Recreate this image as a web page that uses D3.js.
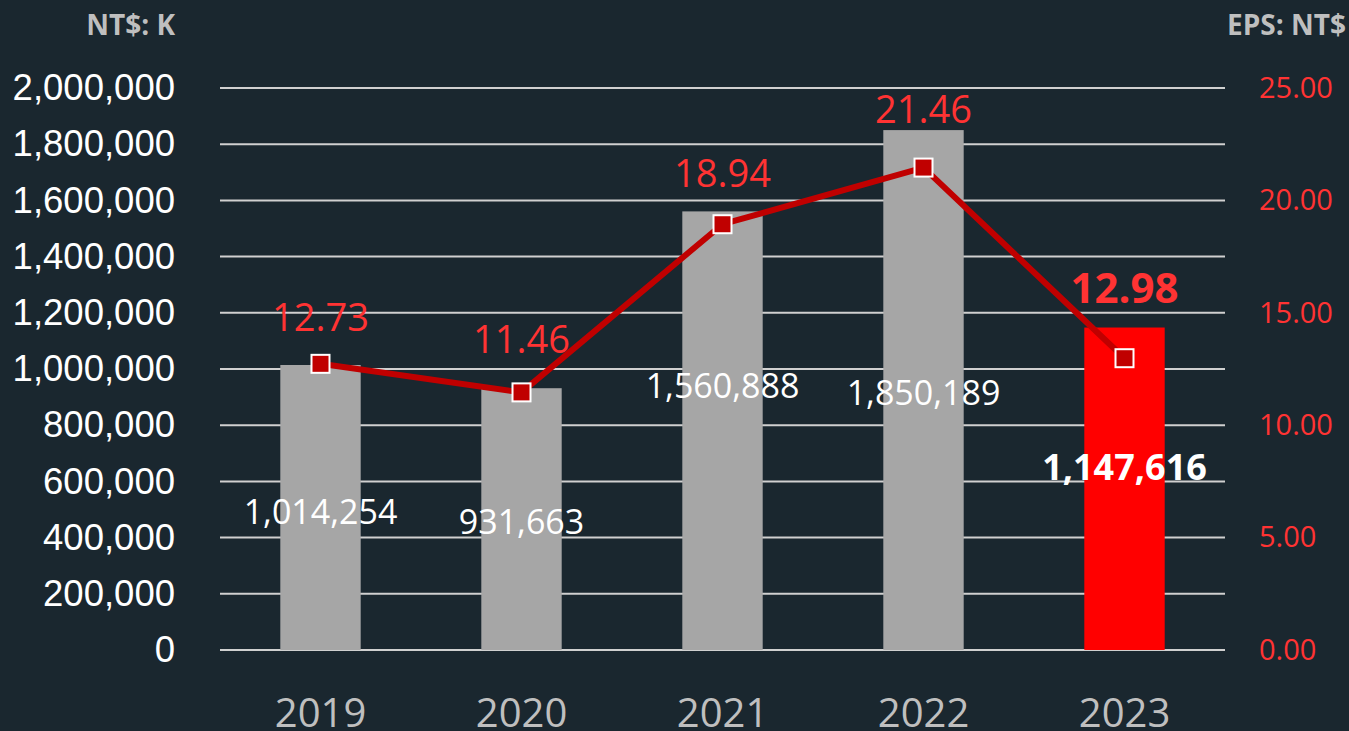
<!DOCTYPE html>
<html>
<head>
<meta charset="utf-8">
<script src="https://cdn.jsdelivr.net/npm/d3@7"></script>
<style>
  html, body { margin: 0; padding: 0; background: #1a272f; }
  svg { display: block; }
</style>
</head>
<body>
<div id="chart"></div>
<script>
// revenue (NT$ K) bars + EPS line, dual axis
var years = ["2019", "2020", "2021", "2022", "2023"];
var revenue = [1014254, 931663, 1560888, 1850189, 1147616];
var eps = [12.73, 11.46, 18.94, 21.46, 12.98];
// where the labels sit (in axis units), they are not tied to the marks
var revenueLabelAt = [490000, 455000, 940000, 915000, 650000];
var epsLabelAt = [14.8, 13.8, 21.2, 24.05, 16.1];
var leftTicks = [0, 200000, 400000, 600000, 800000, 1000000, 1200000, 1400000, 1600000, 1800000, 2000000];
var rightTicks = [0, 5, 10, 15, 20, 25];

var width = 1349, height = 731;
var margin = { top: 88, left: 220, right: 124, bottom: 81 };

var svg = d3.select("#chart").append("svg")
    .attr("width", width)
    .attr("height", height);

svg.append("rect")
    .attr("width", width)
    .attr("height", height)
    .attr("fill", "#1a272f");

var x = d3.scaleBand()
    .domain(years)
    .range([margin.left, width - margin.right])
    .paddingInner(0.6)
    .paddingOuter(0.3);

var yLeft = d3.scaleLinear()
    .domain([0, 2000000])
    .range([height - margin.bottom, margin.top]);

var yRight = d3.scaleLinear()
    .domain([0, 25])
    .range([height - margin.bottom, margin.top]);

// gridlines
svg.append("g")
    .selectAll("line")
    .data(leftTicks)
    .enter()
    .append("line")
    .attr("x1", margin.left)
    .attr("x2", width - margin.right)
    .attr("y1", d => yLeft(d))
    .attr("y2", d => yLeft(d))
    .attr("stroke", "#d0d0d0")
    .attr("stroke-width", 2);

// bars
svg.append("g")
    .selectAll("rect")
    .data(revenue)
    .enter()
    .append("rect")
    .attr("x", (d, i) => x(years[i]))
    .attr("width", x.bandwidth())
    .attr("y", d => yLeft(d))
    .attr("height", d => yLeft(0) - yLeft(d))
    .attr("fill", (d, i) => i === years.length - 1 ? "#ff0000" : "#a6a6a6");

// left axis
var leftAxis = svg.append("g")
    .attr("transform", "translate(" + margin.left + ",0)")
    .call(d3.axisLeft(yLeft).tickValues(leftTicks).tickSize(0).tickPadding(45).tickFormat(d3.format(",")));
leftAxis.select(".domain").remove();
leftAxis.selectAll("text")
    .attr("fill", "#ffffff")
    .style("font-family", "'Liberation Sans', Arial, sans-serif")
    .style("font-size", "36.5px");

// right axis
var rightAxis = svg.append("g")
    .attr("transform", "translate(" + (width - margin.right) + ",0)")
    .call(d3.axisRight(yRight).tickValues(rightTicks).tickSize(0).tickPadding(34).tickFormat(d3.format(".2f")));
rightAxis.select(".domain").remove();
rightAxis.selectAll("text")
    .attr("fill", "#ff3333")
    .style("font-family", "'Open Sans', sans-serif")
    .style("font-size", "29px");

// x axis
var xAxis = svg.append("g")
    .attr("transform", "translate(0," + (height - margin.bottom) + ")")
    .call(d3.axisBottom(x).tickSize(0).tickPadding(49).tickFormat(d => d));
xAxis.select(".domain").remove();
xAxis.selectAll("text")
    .attr("fill", "#bfbfbf")
    .style("font-family", "'Open Sans', sans-serif")
    .style("font-size", "40px");

// revenue labels
svg.append("g")
    .selectAll("text")
    .data(revenue)
    .enter()
    .append("text")
    .attr("x", (d, i) => x(years[i]) + x.bandwidth() / 2)
    .attr("y", (d, i) => yLeft(revenueLabelAt[i]))
    .attr("dy", "0.35em")
    .attr("text-anchor", "middle")
    .attr("fill", "#ffffff")
    .style("font-family", "'Open Sans', sans-serif")
    .style("font-size", (d, i) => i === years.length - 1 ? "36px" : "34px")
    .style("font-weight", (d, i) => i === years.length - 1 ? "bold" : "normal")
    .text(d => d3.format(",")(d));

// eps line
var line = d3.line()
    .x((d, i) => x(years[i]) + x.bandwidth() / 2)
    .y(d => yRight(d));

svg.append("path")
    .datum(eps)
    .attr("d", line)
    .attr("fill", "none")
    .attr("stroke", "#c00000")
    .attr("stroke-width", 6)
    .attr("stroke-linejoin", "round");

svg.append("g")
    .selectAll("rect")
    .data(eps)
    .enter()
    .append("rect")
    .attr("x", (d, i) => x(years[i]) + x.bandwidth() / 2 - 9)
    .attr("y", d => yRight(d) - 9)
    .attr("width", 18)
    .attr("height", 18)
    .attr("fill", "#c00000")
    .attr("stroke", "#ffffff")
    .attr("stroke-width", 2);

// eps labels
svg.append("g")
    .selectAll("text")
    .data(eps)
    .enter()
    .append("text")
    .attr("x", (d, i) => x(years[i]) + x.bandwidth() / 2)
    .attr("y", (d, i) => yRight(epsLabelAt[i]))
    .attr("dy", "0.35em")
    .attr("text-anchor", "middle")
    .attr("fill", "#ff3333")
    .style("font-family", "'Open Sans', sans-serif")
    .style("font-size", (d, i) => i === years.length - 1 ? "42px" : "38px")
    .style("font-weight", (d, i) => i === years.length - 1 ? "bold" : "normal")
    .text(d => d3.format(".2f")(d));

// unit titles
svg.append("text")
    .attr("x", 175)
    .attr("y", 25)
    .attr("dy", "0.35em")
    .attr("text-anchor", "end")
    .attr("fill", "#bfbfbf")
    .style("font-family", "'Open Sans', sans-serif")
    .style("font-size", "28px")
    .style("font-weight", "bold")
    .text("NT$: K");

svg.append("text")
    .attr("x", 1346)
    .attr("y", 25)
    .attr("dy", "0.35em")
    .attr("text-anchor", "end")
    .attr("fill", "#bfbfbf")
    .style("font-family", "'Open Sans', sans-serif")
    .style("font-size", "28px")
    .style("font-weight", "bold")
    .text("EPS: NT$");
</script>
</body>
</html>
